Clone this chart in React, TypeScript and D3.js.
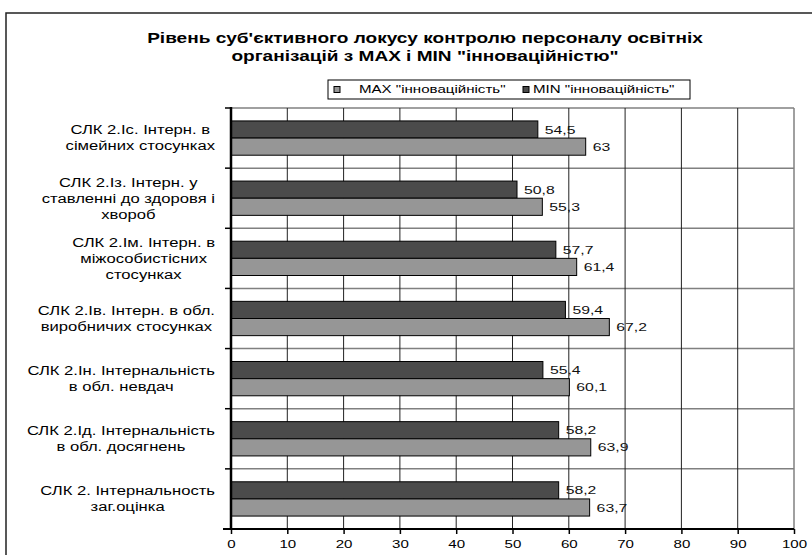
import React, { useEffect, useRef } from "react";
import * as d3 from "d3";

// Category labels, already split into lines as in the picture
const categories: string[][] = [
  ["СЛК 2.Іс. Інтерн. в", "сімейних стосунках"],
  ["СЛК 2.Із. Інтерн. у", "ставленні до здоровя і", "хвороб"],
  ["СЛК 2.Ім. Інтерн. в", "міжособистісних", "стосунках"],
  ["СЛК 2.Ів. Інтерн. в обл.", "виробничих  стосунках"],
  ["СЛК 2.Ін. Інтернальність", "в обл. невдач"],
  ["СЛК 2.Ід. Інтернальність", "в обл. досягнень"],
  ["СЛК 2. Інтернальность", "заг.оцінка"],
];

const maxValues = [63, 55.3, 61.4, 67.2, 60.1, 63.9, 63.7];
const minValues = [54.5, 50.8, 57.7, 59.4, 55.4, 58.2, 58.2];

const seriesNames = ['MAX "інноваційність"', 'MIN "інноваційність"'];
const xTicks = [0, 10, 20, 30, 40, 50, 60, 70, 80, 90, 100];

const titleLines = [
  "Рівень суб'єктивного локусу контролю персоналу освітніх",
  'організацій з MAX і MIN "інноваційністю"',
];

// the source picture is stretched sideways, so text is widened to match
const STRETCH = 1.37;

function widen(sel: d3.Selection<any, any, any, any>, k = STRETCH) {
  sel.each(function () {
    const t = this as SVGTextElement;
    const w = t.getComputedTextLength();
    t.setAttribute("textLength", String(w * k));
    t.setAttribute("lengthAdjust", "spacingAndGlyphs");
  });
}

const App: React.FC = () => {
  const svgRef = useRef<SVGSVGElement>(null);

  useEffect(() => {
    if (!svgRef.current) return;
    const svg = d3.select(svgRef.current);
    svg.selectAll("*").remove();

    const font = "Arial, 'Liberation Sans', sans-serif";
    const darkFill = "#4b4b4b";
    const lightFill = "#969696";

    const left = 231;
    const right = 794;
    const top = 108;
    const bottom = 529;

    // Outer frame
    svg.append("rect")
      .attr("x", 6)
      .attr("y", 13)
      .attr("width", 830)
      .attr("height", 600)
      .attr("fill", "#fff")
      .attr("stroke", "#222")
      .attr("stroke-width", 1.5);

    // Title
    const title = svg.append("g")
      .selectAll("text")
      .data(titleLines)
      .enter().append("text")
      .attr("x", 425)
      .attr("y", (d, i) => 43 + i * 18)
      .attr("text-anchor", "middle")
      .attr("font-family", font)
      .attr("font-weight", "bold")
      .attr("font-size", "14px")
      .attr("fill", "#000")
      .text(d => d);
    widen(title, 1.36);

    const x = d3.scaleLinear().domain([0, 100]).range([left, right]);

    const keys = categories.map((_, i) => String(i));
    const y = d3.scaleBand<string>()
      .domain(keys)
      .range([top, bottom])
      .paddingInner(0.43)
      .paddingOuter(0.215);

    const yInner = d3.scaleBand<string>()
      .domain(["min", "max"])
      .range([0, y.bandwidth()]);

    const step = (bottom - top) / categories.length;
    const boundaries = d3.range(categories.length + 1).map(i => top + i * step);

    // Horizontal gridlines (gray)
    svg.append("g")
      .selectAll("line")
      .data(boundaries.slice(0, -1))
      .enter().append("line")
      .attr("x1", left)
      .attr("x2", right)
      .attr("y1", d => d)
      .attr("y2", d => d)
      .attr("stroke", "#808080")
      .attr("stroke-width", 1.5);

    // Vertical gridlines
    svg.append("g")
      .selectAll("line")
      .data(xTicks.slice(1))
      .enter().append("line")
      .attr("x1", d => x(d))
      .attr("x2", d => x(d))
      .attr("y1", top)
      .attr("y2", bottom)
      .attr("stroke", d => (d === 100 ? "#808080" : "#222"))
      .attr("stroke-width", d => (d === 100 ? 1.5 : 1));

    // Bars
    const rows = categories.map((_, i) => ({
      key: String(i),
      min: minValues[i],
      max: maxValues[i],
    }));

    const groups = svg.append("g")
      .selectAll("g")
      .data(rows)
      .enter().append("g")
      .attr("transform", d => `translate(0,${y(d.key)})`);

    const barData = (d: typeof rows[number]) => [
      { s: "min", v: d.min, fill: darkFill },
      { s: "max", v: d.max, fill: lightFill },
    ];

    groups.selectAll("rect")
      .data(barData)
      .enter().append("rect")
      .attr("x", x(0))
      .attr("y", d => yInner(d.s) as number)
      .attr("width", d => x(d.v) - x(0))
      .attr("height", yInner.bandwidth())
      .attr("fill", d => d.fill)
      .attr("stroke", "#000")
      .attr("stroke-width", 1);

    const fmt = (v: number) => d3.format("~g")(v).replace(".", ",");

    const values = groups.selectAll("text")
      .data(barData)
      .enter().append("text")
      .attr("x", d => x(d.v) + 7)
      .attr("y", d => (yInner(d.s) as number) + yInner.bandwidth() / 2)
      .attr("dy", "0.35em")
      .attr("font-family", font)
      .attr("font-size", "11.5px")
      .attr("fill", "#111")
      .text(d => fmt(d.v));
    widen(values);

    // Left axis line with outward ticks at category boundaries
    svg.append("line")
      .attr("x1", left)
      .attr("x2", left)
      .attr("y1", top - 1)
      .attr("y2", bottom + 1)
      .attr("stroke", "#000")
      .attr("stroke-width", 2.5);

    svg.append("g")
      .selectAll("line")
      .data(boundaries)
      .enter().append("line")
      .attr("x1", left - 6)
      .attr("x2", left)
      .attr("y1", d => d)
      .attr("y2", d => d)
      .attr("stroke", "#000")
      .attr("stroke-width", 1.5);

    // Bottom axis
    const xAxis = svg.append("g")
      .attr("transform", `translate(0,${bottom})`)
      .call(d3.axisBottom(x).tickValues(xTicks).tickSize(5).tickPadding(6).tickFormat(d3.format("d")));
    xAxis.select(".domain").attr("stroke", "#000").attr("stroke-width", 2).attr("d", `M${left - 8},0H${right}`);
    xAxis.selectAll(".tick line").attr("stroke", "#000").attr("stroke-width", 1.5);
    const tickText = xAxis.selectAll(".tick text")
      .attr("font-family", font)
      .attr("font-size", "11px")
      .attr("fill", "#000");
    widen(tickText);

    // Category labels: lines centred on each other, block right-aligned to the axis
    const labelRight = 215;
    const lineH = 16;
    const labelStretch = 1.33;
    categories.forEach((lines, i) => {
      const cy = (y(String(i)) as number) + y.bandwidth() / 2;
      const g = svg.append("g");
      const texts = g.selectAll("text")
        .data(lines)
        .enter().append("text")
        .attr("y", (d, j) => cy + (j - (lines.length - 1) / 2) * lineH)
        .attr("dy", "0.35em")
        .attr("text-anchor", "middle")
        .attr("font-family", font)
        .attr("font-size", "12.5px")
        .attr("fill", "#000")
        .text(d => d);
      let maxW = 0;
      texts.each(function () {
        maxW = Math.max(maxW, (this as SVGTextElement).getComputedTextLength());
      });
      widen(texts, labelStretch);
      texts.attr("x", labelRight - (maxW * labelStretch) / 2);
    });

    // Legend
    const legend = svg.append("g");
    legend.append("rect")
      .attr("x", 328)
      .attr("y", 80)
      .attr("width", 362)
      .attr("height", 19)
      .attr("fill", "#fff")
      .attr("stroke", "#000")
      .attr("stroke-width", 1);
    const legendItems = [
      { name: seriesNames[0], fill: lightFill, mx: 334, tx: 359 },
      { name: seriesNames[1], fill: darkFill, mx: 523, tx: 533 },
    ];
    legendItems.forEach(item => {
      legend.append("rect")
        .attr("x", item.mx)
        .attr("y", 86.5)
        .attr("width", 6)
        .attr("height", 6)
        .attr("fill", item.fill)
        .attr("stroke", "#000")
        .attr("stroke-width", 1);
      const t = legend.append("text")
        .attr("x", item.tx)
        .attr("y", 89.5)
        .attr("dy", "0.35em")
        .attr("font-family", font)
        .attr("font-size", "11px")
        .attr("fill", "#000")
        .text(item.name);
      widen(t);
    });
  }, []);

  return (
    <svg
      ref={svgRef}
      width={812}
      height={555}
      style={{ position: "absolute", left: 0, top: 0, background: "#fff" }}
    />
  );
};

export default App;
